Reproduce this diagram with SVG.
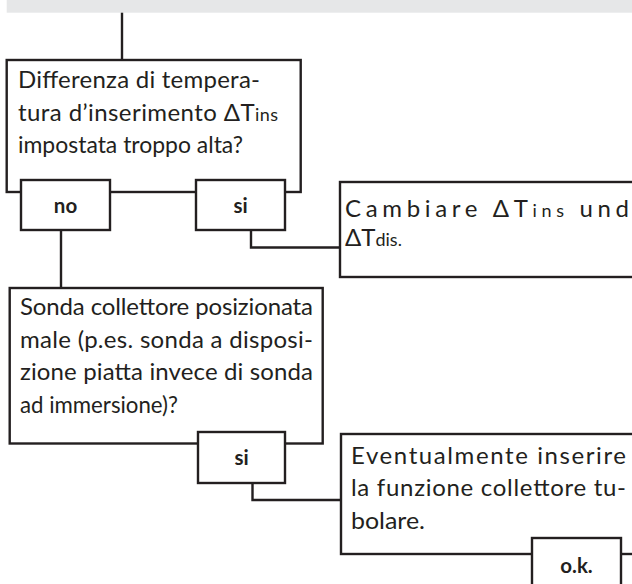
<svg xmlns="http://www.w3.org/2000/svg" width="632" height="584" viewBox="0 0 632 584">
<style>
.box{fill:#fff;stroke:#231f20;stroke-width:2.4}
.conn{fill:none;stroke:#231f20;stroke-width:2.4}
.t{font-family:Lato,"Liberation Sans",sans-serif;font-size:24px;fill:#231f20}
.s{font-size:18px}
.b{font-family:Lato,"Liberation Sans",sans-serif;font-weight:bold;font-size:20.5px;fill:#231f20;text-anchor:middle}
</style>
<rect x="6.7" y="0" width="626" height="12.7" fill="#e6e7e8"/>
<g id="connectors">
<path class="conn" d="M122,12.7 V60"/>
<path class="conn" d="M61,230 V288"/>
<path class="conn" d="M251,230 V247.5 H340"/>
<path class="conn" d="M252.5,483 V500 H341"/>
</g>
<g id="q1">
<rect class="box" x="6.7" y="60" width="294" height="132"/>
<text class="t" x="18" y="88" textLength="242" lengthAdjust="spacing">Differenza di tempera-</text>
<text class="t" x="18" y="120.5" textLength="260" lengthAdjust="spacing">tura d’inserimento ΔT<tspan class="s">ins</tspan></text>
<text class="t" x="18" y="153" textLength="225" lengthAdjust="spacingAndGlyphs">impostata troppo alta?</text>
</g>
<g id="no1">
<rect class="box" x="21" y="180" width="89" height="50"/>
<text class="b" x="65.5" y="212.5">no</text>
</g>
<g id="si1">
<rect class="box" x="196" y="180" width="89" height="50"/>
<text class="b" x="240.5" y="212.5">si</text>
</g>
<g id="a1">
<rect class="box" x="340" y="182" width="300" height="95"/>
<text class="t" x="345" y="216.5" textLength="284" lengthAdjust="spacing">Cambiare ΔT<tspan class="s">ins</tspan> und</text>
<text class="t" x="345" y="246">ΔT<tspan class="s">dis.</tspan></text>
</g>
<g id="q2">
<rect class="box" x="9.7" y="288" width="313" height="155.5"/>
<text class="t" x="20" y="315" textLength="293" lengthAdjust="spacing">Sonda collettore posizionata</text>
<text class="t" x="20" y="347.5" textLength="293" lengthAdjust="spacing">male (p.es. sonda a disposi-</text>
<text class="t" x="20" y="380" textLength="293" lengthAdjust="spacing">zione piatta invece di sonda</text>
<text class="t" x="20" y="412.5" textLength="158" lengthAdjust="spacingAndGlyphs">ad immersione)?</text>
</g>
<g id="si2">
<rect class="box" x="198" y="432" width="87" height="51"/>
<text class="b" x="241.5" y="464.5">si</text>
</g>
<g id="a2">
<rect class="box" x="341" y="434" width="300" height="120"/>
<text class="t" x="351" y="463.5" textLength="275" lengthAdjust="spacing">Eventualmente inserire</text>
<text class="t" x="351" y="496" textLength="275" lengthAdjust="spacing">la funzione collettore tu-</text>
<text class="t" x="351" y="528.5" textLength="74" lengthAdjust="spacingAndGlyphs">bolare.</text>
</g>
<g id="ok">
<rect class="box" x="532" y="538" width="89" height="60"/>
<text class="b" x="576.5" y="573">o.k.</text>
</g>
</svg>
